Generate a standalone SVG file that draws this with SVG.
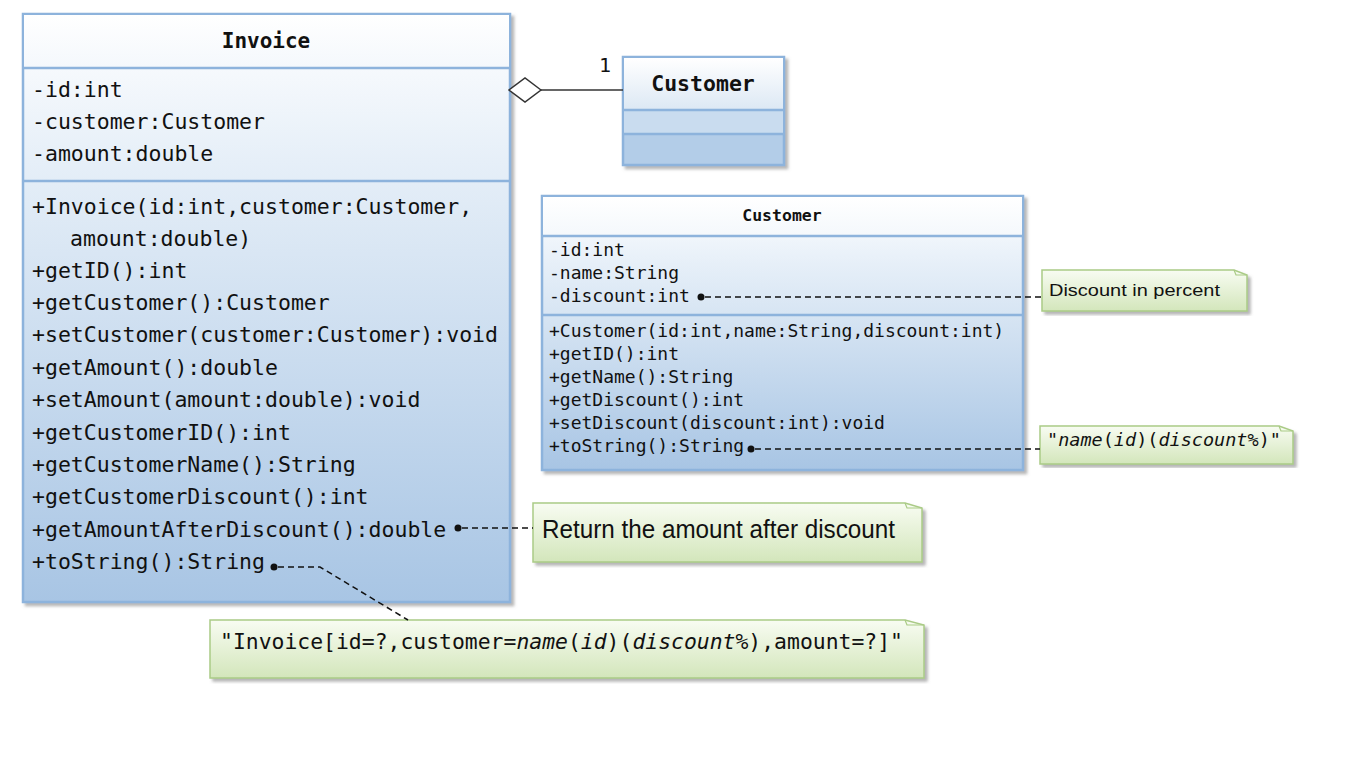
<svg xmlns="http://www.w3.org/2000/svg" width="1350" height="765" viewBox="0 0 1350 765">
<defs>
<linearGradient id="gBody" x1="0" y1="0" x2="0" y2="1"><stop offset="0" stop-color="#ffffff"/><stop offset="0.25" stop-color="#e6eff8"/><stop offset="1" stop-color="#a8c5e4"/></linearGradient>
<linearGradient id="gHead" x1="0" y1="0" x2="0" y2="1"><stop offset="0" stop-color="#ffffff"/><stop offset="1" stop-color="#f4f8fc"/></linearGradient>
<linearGradient id="gHead2" x1="0" y1="0" x2="0" y2="1"><stop offset="0" stop-color="#ffffff"/><stop offset="1" stop-color="#dce8f4"/></linearGradient>
<linearGradient id="gNote" x1="0" y1="0" x2="0" y2="1"><stop offset="0" stop-color="#f8fcf2"/><stop offset="1" stop-color="#d3e6bb"/></linearGradient>
<filter id="sh" x="-5%" y="-5%" width="110%" height="115%"><feDropShadow dx="3" dy="3" stdDeviation="1.5" flood-color="#7a7a7a" flood-opacity="0.55"/></filter>
</defs>
<style>
.box{stroke:#8db3dc;stroke-width:2.5}
.sep{stroke:#8db3dc;stroke-width:2.5}
.mono{font-family:"DejaVu Sans Mono","Liberation Mono",monospace;fill:#111}
.inv{font-size:21.5px}
.cus{font-size:18px}
.hd{font-weight:bold;text-anchor:middle}
.note{stroke:#aacb86;stroke-width:1.5;fill:url(#gNote)}
.fold{fill:none;stroke:#aacb86;stroke-width:1.2}
.sans{font-family:"Liberation Sans","Open Sans",sans-serif;fill:#111}
.dash{stroke:#111;stroke-width:1.5;stroke-dasharray:6,4;fill:none}
.it{font-style:italic}
</style>
<rect width="1350" height="765" fill="#ffffff"/>

<g id="invoice">
<g filter="url(#sh)">
<rect x="23" y="14" width="487" height="588" fill="url(#gBody)" class="box"/>
</g>
<rect x="24" y="15" width="485" height="53" fill="url(#gHead)"/>
<line x1="23" y1="68" x2="510" y2="68" class="sep"/>
<line x1="23" y1="181" x2="510" y2="181" class="sep"/>
<text x="266" y="48" class="mono hd" font-size="21">Invoice</text>
<text class="mono inv" x="32">
<tspan x="32" y="97">-id:int</tspan>
<tspan x="32" y="129">-customer:Customer</tspan>
<tspan x="32" y="161">-amount:double</tspan>
<tspan x="32" y="214">+Invoice(id:int,customer:Customer,</tspan>
<tspan x="70" y="246">amount:double)</tspan>
<tspan x="32" y="278">+getID():int</tspan>
<tspan x="32" y="310">+getCustomer():Customer</tspan>
<tspan x="32" y="342">+setCustomer(customer:Customer):void</tspan>
<tspan x="32" y="375">+getAmount():double</tspan>
<tspan x="32" y="407">+setAmount(amount:double):void</tspan>
<tspan x="32" y="440">+getCustomerID():int</tspan>
<tspan x="32" y="472">+getCustomerName():String</tspan>
<tspan x="32" y="504">+getCustomerDiscount():int</tspan>
<tspan x="32" y="537">+getAmountAfterDiscount():double</tspan>
<tspan x="32" y="569">+toString():String</tspan>
</text>
</g>

<g id="customer-small">
<g filter="url(#sh)">
<rect x="623" y="57" width="161" height="108" fill="#b3cde8" class="box"/>
</g>
<rect x="624" y="58" width="159" height="52" fill="url(#gHead2)"/>
<rect x="624" y="111" width="159" height="23" fill="#c9dcef"/>
<line x1="623" y1="110" x2="784" y2="110" class="sep"/>
<line x1="623" y1="134" x2="784" y2="134" class="sep"/>
<text x="703" y="91" class="mono hd" font-size="21.5">Customer</text>
</g>

<g id="customer">
<g filter="url(#sh)">
<rect x="542" y="196" width="481" height="274" fill="url(#gBody)" class="box"/>
</g>
<rect x="543" y="197" width="479" height="39" fill="url(#gHead)"/>
<line x1="542" y1="236" x2="1023" y2="236" class="sep"/>
<line x1="542" y1="315" x2="1023" y2="315" class="sep"/>
<text x="782" y="221" class="mono hd" font-size="16.5">Customer</text>
<text class="mono cus">
<tspan x="549" y="256">-id:int</tspan>
<tspan x="549" y="279">-name:String</tspan>
<tspan x="549" y="302">-discount:int</tspan>
<tspan x="549" y="337">+Customer(id:int,name:String,discount:int)</tspan>
<tspan x="549" y="360">+getID():int</tspan>
<tspan x="549" y="383">+getName():String</tspan>
<tspan x="549" y="406">+getDiscount():int</tspan>
<tspan x="549" y="429">+setDiscount(discount:int):void</tspan>
<tspan x="549" y="452">+toString():String</tspan>
</text>
</g>

<g id="note-discount">
<g filter="url(#sh)">
<path d="M1042,270 H1234 L1247,275 V311 H1042 Z" class="note"/>
</g>
<path d="M1234,270 L1236,275 H1247" class="fold"/>
<text x="1049" y="296" class="sans" font-size="17" textLength="171" lengthAdjust="spacingAndGlyphs">Discount in percent</text>
</g>

<g id="note-tostring">
<g filter="url(#sh)">
<path d="M1040,426 H1279 L1293,431 V464 H1040 Z" class="note"/>
</g>
<path d="M1279,426 L1281,431 H1293" class="fold"/>
<text x="1047" y="446" class="mono" font-size="18.5">"<tspan class="it">name</tspan>(<tspan class="it">id</tspan>)(<tspan class="it">discount%</tspan>)"</text>
</g>

<g id="note-amount">
<g filter="url(#sh)">
<path d="M533,503 H905 L922,508 V562 H533 Z" class="note"/>
</g>
<path d="M905,503 L907,508 H922" class="fold"/>
<text x="542" y="538" class="sans" font-size="25" textLength="353" lengthAdjust="spacingAndGlyphs">Return the amount after discount</text>
</g>

<g id="note-invoice-tostring">
<g filter="url(#sh)">
<path d="M210,620 H905 L924,625 V678 H210 Z" class="note"/>
</g>
<path d="M905,620 L907,625 H924" class="fold"/>
<text x="220" y="649" class="mono inv" textLength="683" lengthAdjust="spacingAndGlyphs">"Invoice[id=?,customer=<tspan class="it">name</tspan>(<tspan class="it">id</tspan>)(<tspan class="it">discount%</tspan>),amount=?]"</text>
</g>

<g id="connectors">
<path d="M541,90 L525,78 L509,90 L525,102 Z" fill="#ffffff" stroke="#333" stroke-width="1.5"/>
<line x1="541" y1="90" x2="623" y2="90" stroke="#333" stroke-width="1.5"/>
<text x="599" y="72" class="mono" font-size="20">1</text>
<circle cx="701" cy="297" r="3.5" fill="#111"/>
<line x1="705" y1="297" x2="1042" y2="297" class="dash"/>
<circle cx="751" cy="449" r="3.5" fill="#111"/>
<line x1="755" y1="449" x2="1040" y2="449" class="dash"/>
<circle cx="458" cy="528" r="3.5" fill="#111"/>
<line x1="462" y1="528" x2="533" y2="528" class="dash"/>
<circle cx="274" cy="567" r="3.5" fill="#111"/>
<path d="M278,567 H320 L408,620" class="dash"/>
</g>
</svg>
